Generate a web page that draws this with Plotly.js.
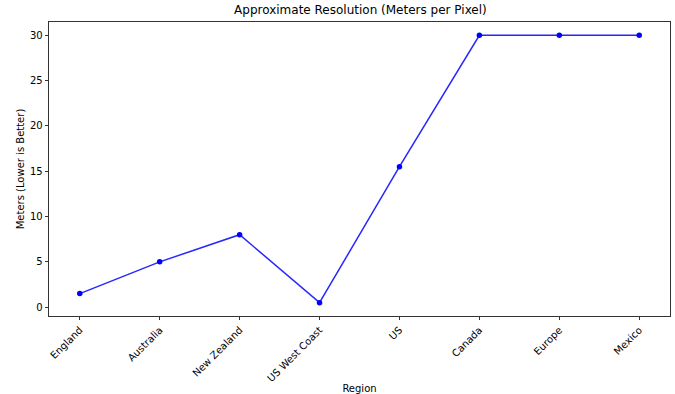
<!DOCTYPE html>
<html>
<head>
<meta charset="utf-8">
<script src="https://cdn.plot.ly/plotly-3.0.1.min.js"></script>
<style>html,body{margin:0;padding:0;background:#fff;}#chart{width:675px;height:394px;}</style>
</head>
<body>
<div id="chart"></div>
<script>
const regions = ["England", "Australia", "New Zealand", "US West Coast", "US", "Canada", "Europe", "Mexico"];
const meters = [1.5, 5, 8, 0.5, 15.5, 30, 30, 30];
const yTicks = [0, 5, 10, 15, 20, 25, 30];

const trace = {
  x: regions.map((_, i) => i),
  y: meters,
  type: 'scatter',
  mode: 'lines+markers',
  line: {color: 'rgba(0,0,255,0.85)', width: 1.5},
  marker: {color: 'blue', size: 5.5},
  hoverinfo: 'skip'
};

const font = {family: 'DejaVu Sans', size: 10, color: '#000'};
const layout = {
  width: 675, height: 394,
  margin: {l: 49, r: 5, t: 22, b: 78},
  paper_bgcolor: '#fff', plot_bgcolor: '#fff',
  showlegend: false,
  font: font,
  title: {text: 'Approximate Resolution (Meters per Pixel)', font: {family: 'DejaVu Sans', size: 12, color: '#000'}, x: 0.534, xanchor: 'center', y: 0.975, yanchor: 'middle'},
  xaxis: {
    range: [-0.385, 7.385],
    tickvals: regions.map((_, i) => i),
    ticktext: regions,
    tickangle: -45,
    ticks: 'outside', ticklen: 3.5, tickwidth: 0.8, tickcolor: '#000',
    showgrid: false, zeroline: false,
    showline: true, linecolor: '#000', linewidth: 0.8, mirror: true,
    tickfont: font,
    title: {text: 'Region', font: font, standoff: 4}
  },
  yaxis: {
    range: [-0.975, 31.475],
    tickvals: yTicks,
    ticks: 'outside', ticklen: 3.5, tickwidth: 0.8, tickcolor: '#000',
    showgrid: false, zeroline: false,
    showline: true, linecolor: '#000', linewidth: 0.8, mirror: true,
    tickfont: font,
    title: {text: 'Meters (Lower is Better)', font: font, standoff: 3}
  }
};
Plotly.newPlot('chart', [trace], layout, {displayModeBar: false, staticPlot: true});
</script>
</body>
</html>
